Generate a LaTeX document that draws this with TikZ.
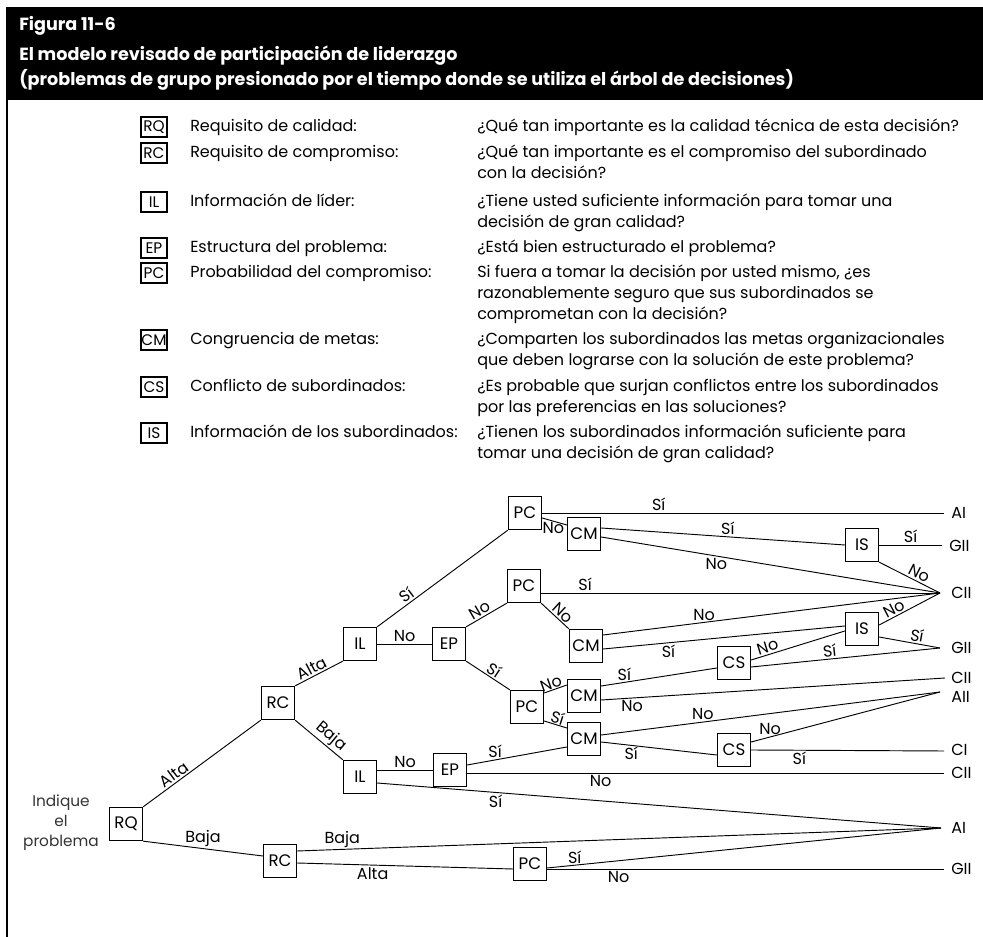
\documentclass[tikz,border=0pt]{standalone}
\usepackage{fontspec}
\setmainfont{Poppins}
\usepackage{tikz}
\usetikzlibrary{positioning}

\tikzset{
  titulo/.style={anchor=base west, inner sep=0pt, text=white, font=\bfseries\fontsize{13.2}{15}\selectfont},
  keybox/.style={draw, line width=0.9pt, minimum width=19.5pt, minimum height=15pt, inner sep=0pt, font=\fontsize{11.5}{13}\selectfont},
  keytxt/.style={anchor=base west, inner sep=0pt, font=\fontsize{12}{15.5}\selectfont},
  qbox/.style={draw, line width=1pt, minimum width=24.75pt, minimum height=24.75pt, inner sep=0pt, font=\fontsize{12.5}{14}\selectfont},
  rama/.style={line width=0.7pt},
  etq/.style={inner sep=1.2pt, font=\fontsize{12}{13}\selectfont},
  fin/.style={anchor=west, inner sep=0pt, font=\fontsize{12}{13}\selectfont},
}

\begin{document}
\begin{tikzpicture}[x=0.75pt, y=-0.75pt]
  \useasboundingbox (0,0) rectangle (983,937);

  % barra de titulo
  \fill[black] (6,7) rectangle (983,100);
  \draw[line width=1.5pt] (7,100) -- (7,937);
  \node[titulo] (tit1) at (19,31) {Figura 11-6};
  \node[titulo] (tit2) at (19,61) {El modelo revisado de participación de liderazgo};
  \node[titulo] (tit3) at (19,86) {(problemas de grupo presionado por el tiempo donde se utiliza el árbol de decisiones)};

  % leyenda
  \node[keybox] (kRQ) at (154,127) {RQ};
  \node[keytxt] (lRQ) at (190,132) {Requisito de calidad:};
  \node[keytxt] (qRQ) at (477,132) {\parbox[t]{400pt}{¿Qué tan importante es la calidad técnica de esta decisión?}};

  \node[keybox] (kRC) at (154,153) {RC};
  \node[keytxt] (lRC) at (190,158) {Requisito de compromiso:};
  \node[keytxt] (qRC) at (477,158) {\parbox[t]{400pt}{¿Qué tan importante es el compromiso del subordinado\\con la decisión?}};

  \node[keybox] (kIL) at (154,202) {IL};
  \node[keytxt] (lIL) at (190,207) {Información de líder:};
  \node[keytxt] (qIL) at (477,207) {\parbox[t]{400pt}{¿Tiene usted suficiente información para tomar una\\decisión de gran calidad?}};

  \node[keybox] (kEP) at (154,248) {EP};
  \node[keytxt] (lEP) at (190,253) {Estructura del problema:};
  \node[keytxt] (qEP) at (477,253) {\parbox[t]{400pt}{¿Está bien estructurado el problema?}};

  \node[keybox] (kPC) at (154,273) {PC};
  \node[keytxt] (lPC) at (190,278) {Probabilidad del compromiso:};
  \node[keytxt] (qPC) at (477,278) {\parbox[t]{400pt}{Si fuera a tomar la decisión por usted mismo, ¿es\\razonablemente seguro que sus subordinados se\\comprometan con la decisión?}};

  \node[keybox] (kCM) at (154,340) {CM};
  \node[keytxt] (lCM) at (190,345) {Congruencia de metas:};
  \node[keytxt] (qCM) at (477,345) {\parbox[t]{400pt}{¿Comparten los subordinados las metas organizacionales\\que deben lograrse con la solución de este problema?}};

  \node[keybox] (kCS) at (154,387) {CS};
  \node[keytxt] (lCS) at (190,392) {Conflicto de subordinados:};
  \node[keytxt] (qCS) at (477,392) {\parbox[t]{400pt}{¿Es probable que surjan conflictos entre los subordinados\\por las preferencias en las soluciones?}};

  \node[keybox] (kIS) at (154,433) {IS};
  \node[keytxt] (lIS) at (190,438) {Información de los subordinados:};
  \node[keytxt] (qIS) at (477,438) {\parbox[t]{400pt}{¿Tienen los subordinados información suficiente para\\tomar una decisión de gran calidad?}};

  % nodos del arbol
  \node[align=center, font=\fontsize{11.5}{15}\selectfont, text=black!80] (inicio) at (61,823) {Indique\\el\\problema};
  \node[qbox] (RQ)  at (126,824) {RQ};
  \node[qbox] (RCa) at (278,703) {RC};
  \node[qbox] (RCb) at (280,861) {RC};
  \node[qbox] (ILa) at (360,644) {IL};
  \node[qbox] (ILb) at (360,777) {IL};
  \node[qbox] (EPa) at (449,644) {EP};
  \node[qbox] (EPb) at (450,770) {EP};
  \node[qbox] (PCa) at (525,513) {PC};
  \node[qbox] (CMa) at (584,534) {CM};
  \node[qbox] (ISa) at (862,545) {IS};
  \node[qbox] (PCb) at (524,586) {PC};
  \node[qbox] (CMb) at (586,646) {CM};
  \node[qbox] (PCc) at (527,707) {PC};
  \node[qbox] (CMc) at (584,696) {CM};
  \node[qbox] (CMd) at (584,739) {CM};
  \node[qbox] (CSa) at (734,663) {CS};
  \node[qbox] (CSb) at (734,750) {CS};
  \node[qbox] (ISb) at (862,629) {IS};
  \node[qbox] (PCd) at (530,864) {PC};

  % resultados
  \coordinate (AIa)  at (944,513);
  \coordinate (GIIa) at (942,545);
  \coordinate (CIIa) at (940,593);
  \coordinate (GIIb) at (940,648);
  \coordinate (CIIb) at (945,678);
  \coordinate (AII)  at (940,692);
  \coordinate (CI)   at (944,751);
  \coordinate (CIIc) at (944,773);
  \coordinate (AIb)  at (941,828);
  \coordinate (GIIc) at (944,869);
  \node[fin] (tAIa)  at (951,513) {AI};
  \node[fin] (tGIIa) at (949,546) {GII};
  \node[fin] (tCIIa) at (951,593) {CII};
  \node[fin] (tGIIb) at (951,648) {GII};
  \node[fin] (tCIIb) at (951,678) {CII};
  \node[fin] (tAII)  at (951,697) {AII};
  \node[fin] (tCI)   at (951,750) {CI};
  \node[fin] (tCIIc) at (951,773) {CII};
  \node[fin] (tAIb)  at (951,828) {AI};
  \node[fin] (tGIIc) at (951,869) {GII};

  % ramas superiores
  \draw[rama] (RQ.north east) -- node[etq, above, sloped, pos=0.3] {Alta} (RCa.south west);
  \draw[rama] (RCa.north east) -- node[etq, above, sloped, pos=0.42] {Alta} (ILa.south west);
  \draw[rama] (RCa.south east) -- node[etq, above, sloped, pos=0.62] {Baja} (ILb.north west);
  \draw[rama] (ILa.north east) -- node[etq, above, sloped, pos=0.26] {Sí} (PCa.south west);
  \draw[rama] (ILa) -- node[etq, above] {No} (EPa);
  \draw[rama] (EPa.north east) -- node[etq, above, sloped, pos=0.42] {No} (PCb.south west);
  \draw[rama] (EPa.south east) -- node[etq, above, sloped, pos=0.55] {Sí} (PCc.north west);

  \draw[rama] (PCa.east) -- node[etq, above, pos=0.29] {Sí} (AIa);
  \draw[rama] ([yshift=-3.75pt]PCa.east) -- node[etq, below, pos=0.45, inner sep=0.5pt] {No} ([yshift=6.75pt]CMa.west);
  \draw[rama] ([yshift=4.5pt]CMa.east) -- node[etq, above, pos=0.52] {Sí} (ISa.west);
  \draw[rama] ([yshift=-2.25pt]CMa.east) -- node[etq, below, pos=0.34] {No} (CIIa);
  \draw[rama] (ISa.east) -- node[etq, above] {Sí} (GIIa);
  \draw[rama] (ISa.south east) -- node[etq, above, sloped, pos=0.6] {No} (CIIa);

  \draw[rama] ([yshift=-5.25pt]PCb.east) -- node[etq, above, pos=0.11] {Sí} (CIIa);
  \draw[rama] (PCb.south east) -- node[etq, above, sloped, pos=0.6] {No} (CMb.north west);
  \draw[rama] ([yshift=8.25pt]CMb.east) -- node[etq, above, pos=0.3] {No} (CIIa);
  \draw[rama] ([yshift=-2.25pt]CMb.east) -- node[etq, below, pos=0.27] {Sí} ([yshift=2.25pt]ISb.west);
  \draw[rama] ([yshift=3pt]ISb.east) -- node[etq, above, sloped, pos=0.3] {No} (CIIa);
  \draw[rama] ([yshift=-6pt]ISb.east) -- node[etq, above, sloped, pos=0.6] {Sí} (GIIb);

  \draw[rama] ([yshift=10.5pt]PCc.east) -- node[etq, above, sloped, pos=0.4, inner sep=0.5pt] {No} ([yshift=8.25pt]CMc.west);
  \draw[rama] ([yshift=-10.5pt]PCc.east) -- node[etq, above, sloped, pos=0.5, inner sep=0.5pt] {Sí} ([yshift=8.25pt]CMd.west);
  \draw[rama] ([yshift=7.5pt]CMc.east) -- node[etq, above, pos=0.2] {Sí} ([yshift=-3.75pt]CSa.west);
  \draw[rama] ([yshift=-3pt]CMc.east) -- node[etq, below, pos=0.09] {No} (CIIb);
  \draw[rama] ([yshift=3pt]CMd.east) -- node[etq, above, pos=0.3] {No} (AII);
  \draw[rama] ([yshift=-2.25pt]CMd.east) -- node[etq, below, pos=0.26] {Sí} ([yshift=-3.75pt]CSb.west);
  \draw[rama] ([yshift=2.25pt]CSa.east) -- node[etq, above, sloped, pos=0.2] {No} ([yshift=-1.5pt]ISb.west);
  \draw[rama] ([yshift=-3pt]CSa.east) -- node[etq, above, sloped, pos=0.42] {Sí} (GIIb);
  \draw[rama] ([yshift=6pt]CSb.east) -- node[etq, above, pos=0.1] {No} (AII);
  \draw[rama] (CSb.east) -- node[etq, below, pos=0.25] {Sí} (CI);

  % ramas inferiores
  \draw[rama] ([yshift=5.25pt]ILb.east) -- node[etq, above] {No} (EPb.west);
  \draw[rama] ([yshift=-4.5pt]ILb.east) -- node[etq, below, pos=0.21] {Sí} (AIb);
  \draw[rama] ([yshift=3.75pt]EPb.east) -- node[etq, above, pos=0.28] {Sí} ([yshift=-6pt]CMd.west);
  \draw[rama] ([yshift=-2.25pt]EPb.east) -- node[etq, below, pos=0.28] {No} (CIIc);

  \draw[rama] (RQ.south east) -- node[etq, above, pos=0.5] {Baja} ([yshift=3.75pt]RCb.west);
  \draw[rama] ([yshift=7.5pt]RCb.east) -- node[etq, above, pos=0.07] {Baja} (AIb);
  \draw[rama] ([yshift=-1.5pt]RCb.east) -- node[etq, below, pos=0.35] {Alta} ([yshift=-3.75pt]PCd.west);
  \draw[rama] ([yshift=-3pt]PCd.east) -- node[etq, above, pos=0.07] {Sí} (AIb);
  \draw[rama] ([yshift=-3.75pt]PCd.east) -- node[etq, below, pos=0.18] {No} (GIIc);

\end{tikzpicture}
\end{document}
